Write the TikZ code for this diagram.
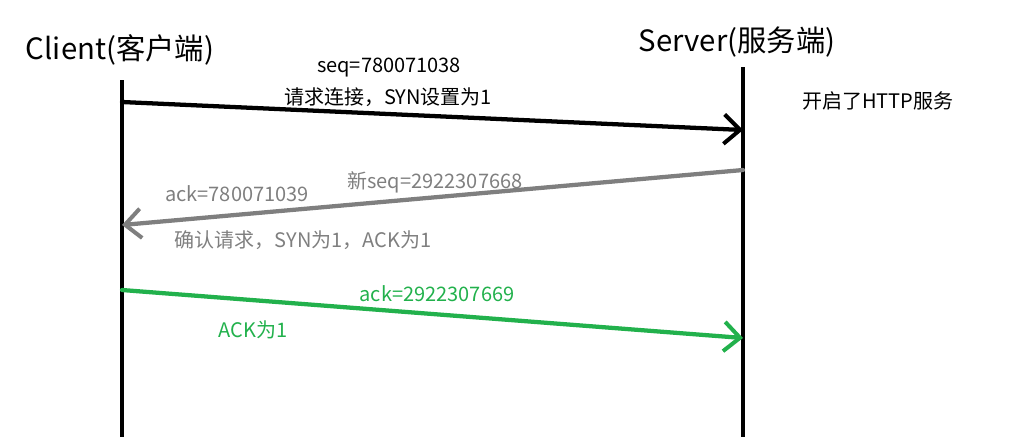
\documentclass[tikz,border=0pt]{standalone}
\usepackage{fontspec}
\setmainfont{Noto Sans CJK SC}
\usetikzlibrary{arrows.meta}
\definecolor{pgray}{RGB}{127,127,127}
\definecolor{pgreen}{RGB}{34,177,76}
\begin{document}
\begin{tikzpicture}[x=0.75pt,y=-0.75pt,
	life/.style={line width=3.2pt},
	msg/.style={line width=3.2pt, line cap=round, -{Straight Barb[length=12pt,width=22pt,line width=3pt]}},
	lbl/.style={font=\fontsize{15}{17}\selectfont, inner sep=0pt}]
	\useasboundingbox (0,0) rectangle (1034,437);
	\coordinate (ctop) at (122, 80);
	\coordinate (cbot) at (122, 437);
	\coordinate (stop) at (743, 67);
	\coordinate (sbot) at (743, 437);
	\draw[life] (ctop) -- (cbot);
	\draw[life] (stop) -- (sbot);
	\node[font=\fontsize{22}{26}\selectfont, inner sep=0pt] (client) at (120, 50) {Client(客户端)};
	\node[font=\fontsize{22}{26}\selectfont, inner sep=0pt] (server) at (737, 42) {Server(服务端)};
	% SYN
	\coordinate (a1) at (122, 102);
	\coordinate (b1) at (743, 130);
	\draw[msg] (a1) -- (b1);
	\node[lbl] (seq) at (389, 68) {seq=780071038};
	\node[lbl] (req) at (388, 97) {请求连接，SYN设置为1};
	\node[lbl] (http) at (878, 101) {开启了HTTP服务};
	% SYN+ACK
	\coordinate (a2) at (743, 170);
	\coordinate (b2) at (122, 225);
	\draw[msg, pgray] (a2) -- (b2);
	\node[lbl, pgray] (newseq) at (435, 182) {新seq=2922307668};
	\node[lbl, pgray] (ack1) at (237, 194) {ack=780071039};
	\node[lbl, pgray] (confirm) at (303, 240) {确认请求，SYN为1，ACK为1};
	% ACK
	\coordinate (a3) at (122, 290);
	\coordinate (b3) at (743, 338);
	\draw[msg, pgreen] (a3) -- (b3);
	\node[lbl, pgreen] (ack2) at (437, 294) {ack=2922307669};
	\node[lbl, pgreen] (ackbit) at (253, 330) {ACK为1};
\end{tikzpicture}
\end{document}
